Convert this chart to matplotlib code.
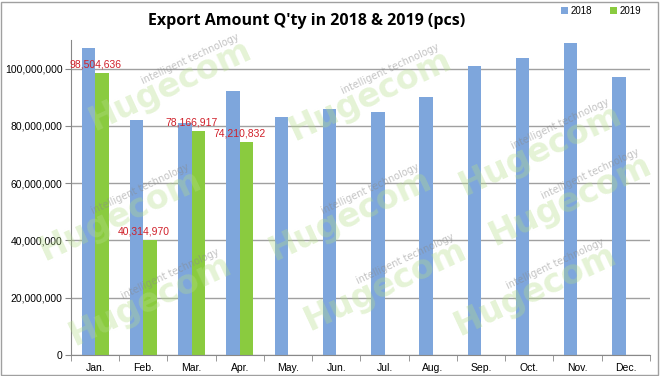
import numpy as np
import matplotlib.pyplot as plt
from matplotlib.patches import Rectangle

months = ['Jan.', 'Feb.', 'Mar.', 'Apr.', 'May.', 'Jun.', 'Jul.', 'Aug.', 'Sep.', 'Oct.', 'Nov.', 'Dec.']
vals_2018 = [107300000, 82200000, 81100000, 92000000, 83200000, 85700000,
             85000000, 89900000, 101000000, 103800000, 109000000, 97200000]
vals_2019 = [98504636, 40314970, 78166917, 74210832]
labels_2019 = ['98,504,636', '40,314,970', '78,166,917', '74,210,832']

blue = '#7ea6dc'
green = '#8acb3f'

fig = plt.figure(figsize=(6.6, 3.76), dpi=100)
ax = fig.add_axes([0.1076, 0.0559, 0.877, 0.838])

x = np.arange(len(months))
w = 0.28
ax.bar(x - w / 2, vals_2018, w, color=blue, label='2018', zorder=2)
ax.bar(x[:len(vals_2019)] + w / 2, vals_2019, w, color=green, label='2019', zorder=2)

for xi, v, s in zip(x, vals_2019, labels_2019):
    ax.text(xi, v + 1200000, s, color='#d0202a', fontsize=7.5, ha='center', va='bottom',
            family='Liberation Sans', zorder=4)

ax.set_xlim(-0.5, 11.5)
ax.set_ylim(0, 110000000)
ax.set_yticks(range(0, 100000001, 20000000))
ax.set_yticklabels([f'{t:,}' for t in range(0, 100000001, 20000000)])
ax.set_xticks(x)
ax.set_xticklabels(months)
ax.set_xticks(np.arange(-0.5, 12, 1), minor=True)
ax.tick_params(axis='x', which='major', length=0, pad=6)
ax.tick_params(axis='x', which='minor', length=4, color='#888888')
ax.tick_params(axis='y', length=4, color='#888888', pad=2)
for lab in ax.get_xticklabels() + ax.get_yticklabels():
    lab.set_family('Liberation Sans')
    lab.set_fontsize(7.5)
ax.grid(axis='y', color='#a0a0a0', linewidth=1, zorder=0)
for sp in ['top', 'right']:
    ax.spines[sp].set_visible(False)
ax.spines['left'].set_color('#888888')
ax.spines['bottom'].set_color('#888888')

fig.text(0.465, 0.945, "Export Amount Q'ty in 2018 & 2019 (pcs)", ha='center', va='center',
         fontsize=11.5, fontweight='bold', family='Open Sans')
ax.legend(loc='upper right', bbox_to_anchor=(1.0, 1.135), ncol=2, frameon=False,
          prop={'family': 'Liberation Sans', 'size': 7}, handlelength=0.7, handleheight=0.7,
          columnspacing=1.8, handletextpad=0.3)

# faint "Hugecom" watermarks
marks = [(170, 85), (370, 95), (540, 150), (120, 215), (350, 215), (570, 200),
         (150, 300), (385, 285), (535, 290)]
for px, py in marks:
    fx, fy = px / 660, 1 - py / 376
    fig.text(fx, fy, 'Hugecom', color='#b5dd8a', alpha=0.35, fontsize=24, fontweight='bold',
             rotation=25, ha='center', va='center', family='DejaVu Sans', zorder=5)
    fig.text(fx + 0.03, fy + 0.07, 'intelligent technology', color='#888888', alpha=0.5,
             fontsize=7, rotation=25, ha='center', va='center', zorder=5)

fig.add_artist(Rectangle((0.002, 0.003), 0.995, 0.993, transform=fig.transFigure,
                         fill=False, edgecolor='#a0a0a0', linewidth=1))

fig.savefig('out.png', dpi=100)
